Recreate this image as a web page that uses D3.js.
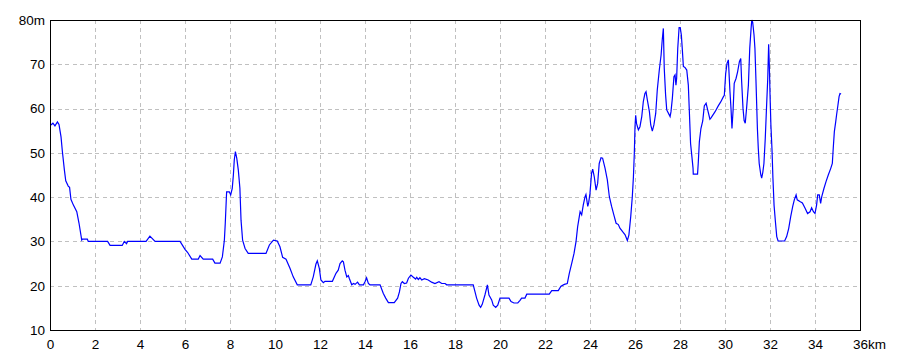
<!DOCTYPE html>
<html>
<head>
<meta charset="utf-8">
<script src="https://cdn.jsdelivr.net/npm/d3@7"></script>
<style>
  body { margin: 0; background: #fff; }
  svg text { font-family: "Liberation Sans", Arial, sans-serif; font-size: 13.5px; fill: #000; }
</style>
</head>
<body>
<svg width="900" height="360"></svg>
<script>
const distKm = [
  0.04, 0.13, 0.22, 0.33, 0.40, 0.49, 0.55, 0.64, 0.70, 0.81, 0.87, 0.93, 1.04, 1.19, 1.29, 1.41,
  1.44, 1.66, 1.70, 2.56, 2.67, 3.21, 3.30, 3.40, 3.45, 4.27, 4.44, 4.67, 5.78, 6.00, 6.12, 6.30,
  6.59, 6.67, 6.81, 7.23, 7.33, 7.56, 7.66, 7.75, 7.79, 7.85, 7.97, 8.03, 8.10, 8.15, 8.19, 8.24,
  8.30, 8.37, 8.44, 8.49, 8.56, 8.67, 8.81, 9.60, 9.75, 9.93, 10.10, 10.22, 10.34, 10.49, 10.67,
  10.81, 10.99, 11.59, 11.70, 11.82, 11.88, 11.97, 12.04, 12.15, 12.22, 12.55, 12.71, 12.81, 12.89,
  12.99, 13.04, 13.11, 13.19, 13.26, 13.30, 13.41, 13.49, 13.56, 13.67, 13.75, 13.93, 14.00, 14.07,
  14.15, 14.22, 14.67, 14.81, 14.92, 15.04, 15.30, 15.45, 15.53, 15.60, 15.66, 15.75, 15.85, 15.93,
  16.04, 16.15, 16.25, 16.30, 16.37, 16.44, 16.52, 16.64, 16.81, 16.96, 17.11, 17.29, 17.41, 17.56,
  17.63, 18.81, 18.89, 18.96, 19.07, 19.14, 19.21, 19.33, 19.44, 19.51, 19.63, 19.70, 19.81, 19.90,
  20.00, 20.40, 20.49, 20.62, 20.79, 20.89, 20.96, 21.11, 21.19, 22.19, 22.30, 22.59, 22.71, 22.86,
  22.99, 23.08, 23.19, 23.29, 23.38, 23.45, 23.56, 23.63, 23.70, 23.78, 23.82, 23.90, 23.94, 24.00,
  24.07, 24.12, 24.19, 24.27, 24.34, 24.41, 24.49, 24.56, 24.67, 24.77, 24.86, 24.96, 25.08, 25.16,
  25.26, 25.33, 25.45, 25.56, 25.66, 25.73, 25.81, 25.88, 25.93, 25.97, 26.00, 26.03, 26.07, 26.15,
  26.22, 26.30, 26.37, 26.44, 26.49, 26.55, 26.64, 26.70, 26.77, 26.84, 26.92, 26.99, 27.08, 27.16,
  27.21, 27.26, 27.30, 27.36, 27.41, 27.50, 27.56, 27.60, 27.66, 27.73, 27.78, 27.82, 27.85, 27.90,
  27.96, 28.01, 28.06, 28.10, 28.15, 28.22, 28.30, 28.37, 28.41, 28.47, 28.53, 28.58, 28.59, 28.78,
  28.81, 28.86, 28.93, 29.01, 29.08, 29.16, 29.23, 29.33, 29.38, 29.56, 29.70, 29.81, 29.93, 29.97,
  30.03, 30.09, 30.15, 30.22, 30.27, 30.31, 30.36, 30.41, 30.49, 30.56, 30.64, 30.70, 30.74, 30.80,
  30.85, 30.90, 30.96, 31.04, 31.10, 31.16, 31.19, 31.23, 31.29, 31.33, 31.38, 31.44, 31.48, 31.52,
  31.59, 31.63, 31.68, 31.73, 31.79, 31.85, 31.90, 31.94, 31.97, 32.00, 32.04, 32.09, 32.13, 32.18,
  32.24, 32.30, 32.36, 32.65, 32.74, 32.83, 32.92, 33.01, 33.08, 33.16, 33.21, 33.33, 33.44, 33.56,
  33.67, 33.78, 33.85, 33.93, 34.00, 34.07, 34.12, 34.19, 34.25, 34.30, 34.40, 34.49, 34.59, 34.70,
  34.77, 34.81, 34.86, 34.92, 34.96, 35.02, 35.07, 35.11, 35.16
];

const elevM = [
  56.3, 56.7, 56.1, 57.0, 56.4, 53.6, 50.3, 46.1, 43.7, 42.5, 42.2, 39.5, 38.2, 36.7, 34.1, 30.3,
  30.5, 30.5, 30.0, 30.0, 29.1, 29.1, 30.0, 29.5, 30.0, 30.0, 31.2, 30.0, 30.0, 28.2, 27.5, 26.0,
  26.0, 26.8, 26.0, 26.0, 25.1, 25.1, 26.5, 30.3, 34.1, 41.2, 41.2, 40.5, 42.0, 45.0, 48.4, 50.3,
  48.8, 46.1, 42.0, 34.8, 30.3, 28.4, 27.3, 27.3, 29.2, 30.3, 30.1, 28.8, 26.4, 26.0, 23.9,
  22.0, 20.2, 20.2, 22.0, 24.9, 25.6, 23.9, 21.3, 20.7, 21.0, 21.0, 22.8, 23.5, 25.0,
  25.6, 25.4, 23.5, 22.0, 22.3, 21.7, 20.2, 20.5, 20.3, 20.8, 20.2, 20.2, 20.9, 21.8,
  20.5, 20.2, 20.2, 18.3, 17.2, 16.2, 16.2, 17.2, 18.6, 20.5, 20.9, 20.5, 20.6, 21.7,
  22.4, 21.9, 21.5, 21.9, 21.4, 21.8, 21.3, 21.6, 21.3, 20.8, 20.5, 20.9, 20.5, 20.5,
  20.2, 20.2, 18.6, 17.2, 15.6, 15.1, 15.8, 17.9, 20.2, 17.9, 16.8, 15.6, 15.1, 15.6,
  17.2, 17.2, 16.4, 16.1, 16.1, 16.7, 17.2, 17.2, 18.1, 18.1, 18.9, 18.9, 19.9, 20.3,
  20.5, 22.8, 25.1, 27.3, 30.0, 33.3, 36.7, 36.0, 38.2, 40.1, 40.6, 37.9, 38.7, 40.9,
  45.4, 46.3, 44.6, 41.6, 43.1, 47.6, 48.9, 48.8, 46.5, 43.9, 40.1, 37.9, 35.6, 34.1,
  33.8, 33.0, 32.2, 31.5, 30.2, 31.5, 35.6, 40.1, 44.6, 49.9, 55.9, 58.5, 56.6, 55.2,
  55.9, 58.2, 61.6, 63.4, 63.8, 61.9, 59.3, 56.3, 54.9, 56.3, 58.9, 64.2, 68.7, 72.1,
  75.5, 78.1, 69.1, 63.1, 59.7, 58.8, 58.2, 59.3, 62.3, 67.2, 67.6, 65.3, 66.8, 73.6,
  78.3, 78.3, 76.6, 73.6, 69.5, 69.3, 68.7, 65.3, 60.1, 52.1, 49.1, 46.5, 45.2, 45.2,
  47.6, 52.5, 55.5, 57.2, 60.6, 61.2, 59.7, 57.6, 57.9, 59.3, 60.6, 61.5, 62.7, 63.0,
  67.9, 70.2, 71.0, 63.9, 59.7, 55.5, 59.7, 65.7, 66.8, 68.3, 70.6, 71.3, 66.1, 60.1,
  57.3, 56.7, 60.1, 65.3, 73.6, 78.1, 80.0, 79.5, 76.6, 73.6, 65.7, 55.5, 51.0, 47.6,
  45.1, 44.3, 45.6, 47.6, 53.3, 60.8, 66.8, 74.5, 69.8, 63.4, 56.3, 50.6, 44.3, 38.2,
  34.5, 31.1, 30.1, 30.1, 31.1, 32.9, 35.6, 37.9, 39.4, 40.5, 39.4, 39.0, 38.7, 37.5,
  36.3, 36.7, 37.6, 36.7, 36.3, 38.2, 40.5, 40.5, 38.6, 40.1, 42.0, 43.5, 45.0, 46.5,
  47.6, 51.0, 54.8, 57.0, 58.6, 60.8, 62.7, 63.4, 63.3
];

const xTicks = d3.range(0, 37, 2);
const yTicks = [10, 20, 30, 40, 50, 60, 70, 80];
const xUnit = "km";
const yUnit = "m";

const svg = d3.select("svg");
const plotLeft = 50, plotRight = 860, plotTop = 20, plotBottom = 330;

const x = d3.scaleLinear().domain([0, 36]).range([plotLeft, plotRight]);
const y = d3.scaleLinear().domain([10, 80]).range([plotBottom, plotTop]);

// grid
svg.append("g")
  .selectAll("line")
  .data(xTicks.slice(1, -1))
  .join("line")
  .attr("x1", (d) => Math.round(x(d)) + 0.5)
  .attr("x2", (d) => Math.round(x(d)) + 0.5)
  .attr("y1", plotTop)
  .attr("y2", plotBottom)
  .attr("stroke", "#c0c0c0")
  .attr("stroke-dasharray", "4,3.5")
  .attr("shape-rendering", "crispEdges");

svg.append("g")
  .selectAll("line")
  .data(yTicks.slice(1, -1))
  .join("line")
  .attr("x1", plotLeft)
  .attr("x2", plotRight)
  .attr("y1", (d) => Math.round(y(d)) + 0.5)
  .attr("y2", (d) => Math.round(y(d)) + 0.5)
  .attr("stroke", "#c0c0c0")
  .attr("stroke-dasharray", "4,3.5")
  .attr("shape-rendering", "crispEdges");

// profile line
const line = d3.line()
  .x((d, i) => x(distKm[i]))
  .y((d) => y(d));

svg.append("path")
  .datum(elevM)
  .attr("fill", "none")
  .attr("stroke", "#0000ff")
  .attr("stroke-width", 1.2)
  .attr("d", line);

// frame
svg.append("rect")
  .attr("x", plotLeft + 0.5)
  .attr("y", plotTop + 0.5)
  .attr("width", plotRight - plotLeft)
  .attr("height", plotBottom - plotTop)
  .attr("fill", "none")
  .attr("stroke", "#000")
  .attr("shape-rendering", "crispEdges");

// axes
const xAxis = svg.append("g")
  .attr("transform", `translate(0,${plotBottom})`)
  .call(d3.axisBottom(x).tickValues(xTicks).tickSize(0).tickPadding(9));
xAxis.select(".domain").remove();

const yAxis = svg.append("g")
  .attr("transform", `translate(${plotLeft},0)`)
  .call(d3.axisLeft(y).tickValues(yTicks).tickSize(0).tickPadding(5)
    .tickFormat((d) => (d === 80 ? d + yUnit : d)));
yAxis.select(".domain").remove();

svg.selectAll(".tick text")
  .attr("font-family", null)
  .attr("font-size", null)
  .attr("fill", "#000");

svg.append("text")
  .attr("x", x(36) + 8)
  .attr("y", plotBottom + 9)
  .attr("dy", "0.71em")
  .text(xUnit);
</script>
</body>
</html>
